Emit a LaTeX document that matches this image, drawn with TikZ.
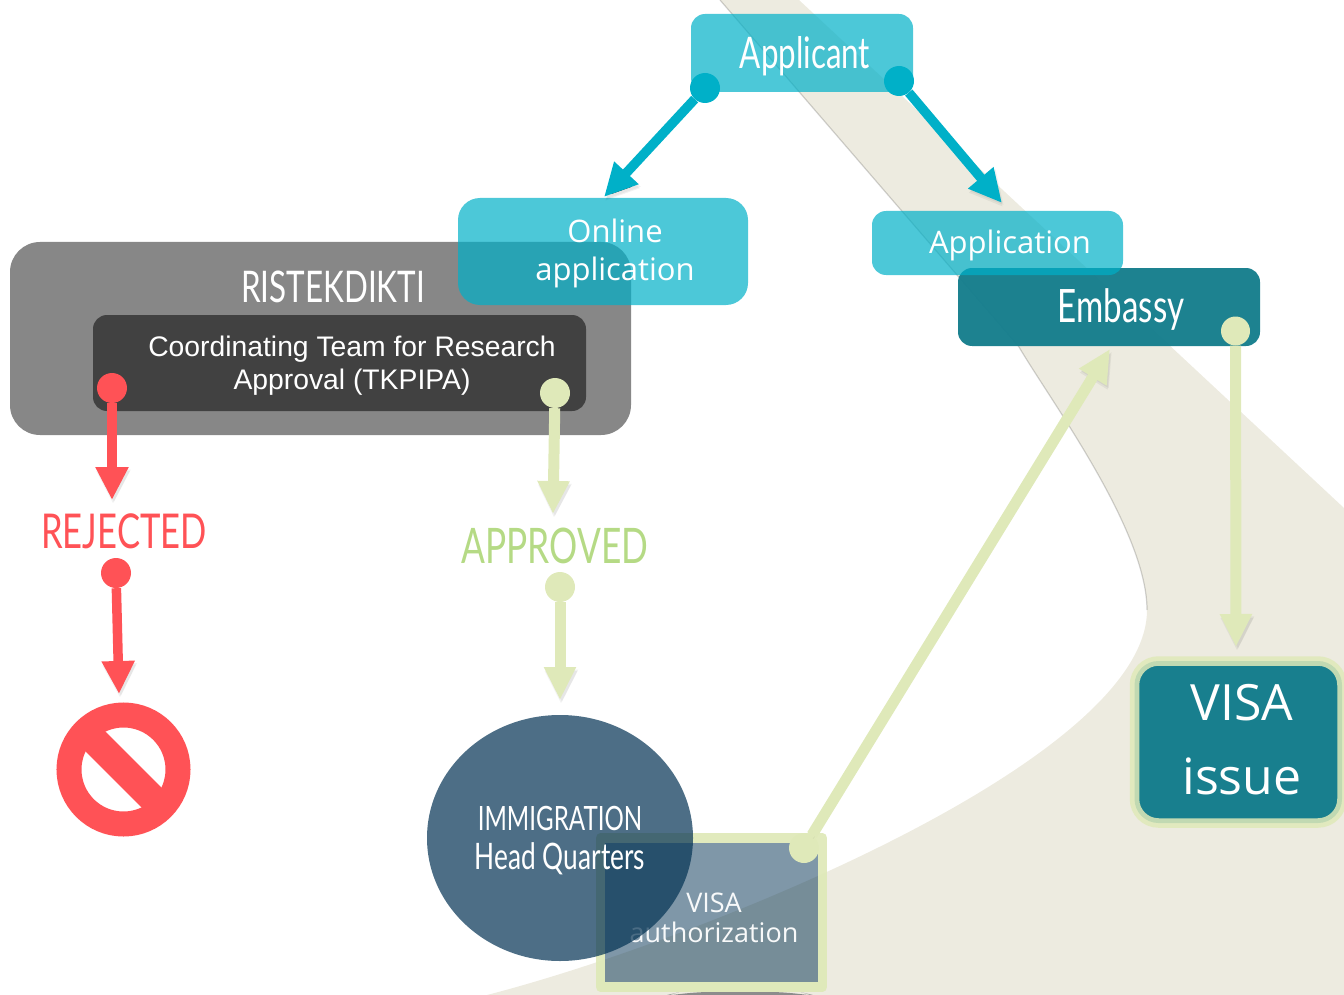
\documentclass[tikz,border=0pt]{standalone}
\usepackage{fontspec}
\usetikzlibrary{arrows.meta}
\setmainfont{Liberation Sans}
\newfontfamily\condf[FakeStretch=0.72]{Lato}
\newfontfamily\roundf{Open Sans}
\definecolor{beige}{HTML}{EDEBE0}
\definecolor{cyanb}{HTML}{00B0C8}
\definecolor{tealb}{HTML}{187F8E}
\definecolor{navyb}{HTML}{043354}
\definecolor{leaf}{HTML}{DFE9B9}
\definecolor{redb}{HTML}{FF5256}
\definecolor{okgreen}{HTML}{B5DA85}
\newcommand{\fs}[1]{\fontsize{#1}{#1}\selectfont}
\tikzset{
 x=1pt,y=-1pt,
 softshadow/.style={
  preaction={draw=black,draw opacity=.05,transform canvas={shift={(1pt,-4pt)}}},
  preaction={draw=black,draw opacity=.05,transform canvas={shift={(2pt,-2.5pt)}}}},
 dot/.style={circle,inner sep=0pt,minimum size=#1},
 linkb/.style={line width=9.5pt,-{Triangle[length=33pt,width=31pt]},softshadow},
 linkl/.style={line width=11pt,-{Triangle[length=33pt,width=30pt]},softshadow},
 cond/.style={text=white,font=\condf\fs{#1},inner sep=0pt},
 round/.style={font=\roundf\fs{#1},text=white,inner sep=0pt,align=center},
}
\begin{document}
\begin{tikzpicture}
\useasboundingbox (0,0) rectangle (1344,995);
\clip (0,0) rectangle (1344,995);
% beige band
\fill[beige] (799,0) -- (1344,508) -- (1344,995) -- (487,995)
  .. controls (700,940) and (1147,760) .. (1147,610)
  .. controls (1147,530) and (1050,400) .. (1019,347) -- (720,0) -- cycle;
\draw[black,draw opacity=.17,line width=1.2pt] (1147,610)
  .. controls (1147,530) and (1050,400) .. (1019,347) -- (720,0);
% grey boxes
\fill[black!47,rounded corners=30pt] (10,242) rectangle (631,435);
\node[cond=43.6,anchor=base] (ristek) at (333,302) {RISTEKDIKTI};
\fill[black!74.5,rounded corners=14pt] (93,315) rectangle (586,411);
\node[text=white,font=\fs{28.3},align=center,inner sep=0pt] (tkp) at (352,366)
  {Coordinating Team for Research\\[4.5pt]Approval (TKPIPA)};
% cyan boxes
\fill[cyanb,fill opacity=.7,rounded corners=14pt] (691,14) rectangle (913,92);
\node[cond=43.5] (applicant) at (805,56) {Applicant};
\fill[cyanb,fill opacity=.7,rounded corners=22pt] (458,198) rectangle (748,305);
\node[round=31] (online) at (615,253.5) {Online\\[7pt]application};
\fill[tealb,fill opacity=.98,rounded corners=14pt] (958,268) rectangle (1260,346);
\node[cond=46] (embassy) at (1121,310) {Embassy};
\fill[cyanb,fill opacity=.7,rounded corners=14pt] (872,211) rectangle (1123,275);
\node[round=31] (application) at (1010,245) {Application};
% visa issue
\draw[leaf,fill=tealb,line width=9.5pt,rounded corners=24pt,draw opacity=.85] (1134.5,661) rectangle (1342,823);
\node[round=50] (visaissue) at (1242,740) {VISA\\[24pt]issue};
% visa authorization
\fill[black!45,rounded corners=30pt] (650,999) -- (680,992) -- (800,992) -- (830,999) -- cycle;
\fill[navyb,fill opacity=.51] (605,843) rectangle (818,982);
\draw[leaf,draw opacity=.95,line width=9.5pt,line join=round] (600.5,838) rectangle (822.5,987);
\node[round=27,text opacity=.95] (visaauth) at (714,918) {VISA\\[3pt]authorization};
% immigration
\fill[navyb,fill opacity=.71] (560,838) ellipse [x radius=133, y radius=123];
\node[text=white,inner sep=0pt,align=center,font=\condf\fontsize{34}{39}\selectfont] (immig) at (560,841)
  {{\fontsize{33.5}{39}\selectfont IMMIGRATION}\\{\fontsize{36.5}{39}\selectfont Head Quarters}};
% status labels
\node[font=\condf\fs{48},text=redb,inner sep=0pt,anchor=base] (rejected) at (124,548) {REJECTED};
\node[font=\condf\fs{49},text=okgreen,inner sep=0pt,anchor=base] (approved) at (555,563) {APPROVED};
% free ends
\coordinate (t1) at (604,197);
\coordinate (t2) at (1002,203);
\coordinate (t3) at (112,500);
\coordinate (t4) at (119,694);
\coordinate (t5) at (553,514);
\coordinate (t6) at (560,700);
\coordinate (t7) at (1110,349);
\coordinate (t8) at (1236,647);
% dots
\node[dot=30pt,fill=cyanb] (d1) at (705,88) {};
\node[dot=30pt,fill=cyanb] (d2) at (899,81) {};
\node[dot=30pt,fill=redb] (d3) at (112,388) {};
\node[dot=30pt,fill=redb] (d4) at (116,573) {};
\node[dot=30pt,fill=leaf] (d5) at (555,393) {};
\node[dot=30pt,fill=leaf] (d6) at (560,587) {};
\node[dot=30pt,fill=leaf] (d7) at (804,848) {};
\node[dot=29pt,fill=leaf] (d8) at (1235.5,331) {};
% connectors
\draw[linkb,cyanb] (d1) -- (t1);
\draw[linkb,cyanb] (d2) -- (t2);
\draw[linkb,redb] (d3) -- (t3);
\draw[linkb,redb] (d4) -- (t4);
\draw[linkl,leaf] (d5) -- (t5);
\draw[linkl,leaf] (d6) -- (t6);
\draw[linkl,leaf] (d7) -- (t7);
\draw[linkl,leaf] (d8) -- (t8);
% no entry sign
\draw[redb,line width=25pt,softshadow] (123.5,769.5) circle (54.5);
\begin{scope}
\clip (123.5,769.5) circle (60);
\draw[redb,line width=28pt] (80.5,726.5) -- (166.5,812.5);
\end{scope}
\end{tikzpicture}
\end{document}
